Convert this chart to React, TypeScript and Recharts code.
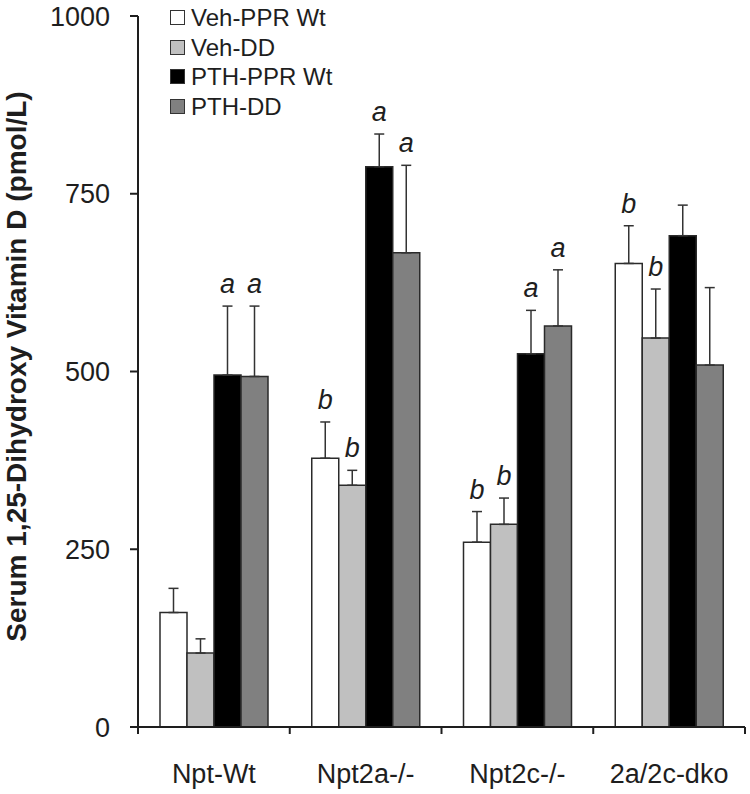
import React from 'react';
import { BarChart, Bar, XAxis, YAxis, ErrorBar, LabelList, Legend } from 'recharts';

// groups on the x axis
const groups = ['Npt-Wt', 'Npt2a-/-', 'Npt2c-/-', '2a/2c-dko'];

// means (pmol/L)
const vehPpr = [161, 378, 260, 652];
const vehDd = [104, 340, 285, 547];
const pthPpr = [495, 788, 525, 691];
const pthDd = [493, 667, 564, 509];

// SEM, upper side only
const vehPprErr = [34, 51, 43, 53];
const vehDdErr = [20, 21, 37, 69];
const pthPprErr = [97, 46, 61, 43];
const pthDdErr = [99, 123, 79, 109];

// significance letters
const vehPprSig = ['', 'b', 'b', 'b'];
const vehDdSig = ['', 'b', 'b', 'b'];
const pthPprSig = ['a', 'a', 'a', ''];
const pthDdSig = ['a', 'a', 'a', ''];

const yTicks = [0, 250, 500, 750, 1000];

const series = [
    { key: 'vehPpr', name: 'Veh-PPR Wt', fill: '#ffffff', vals: vehPpr, errs: vehPprErr, sig: vehPprSig },
    { key: 'vehDd', name: 'Veh-DD', fill: '#c0c0c0', vals: vehDd, errs: vehDdErr, sig: vehDdSig },
    { key: 'pthPpr', name: 'PTH-PPR Wt', fill: '#000000', vals: pthPpr, errs: pthPprErr, sig: pthPprSig },
    { key: 'pthDd', name: 'PTH-DD', fill: '#808080', vals: pthDd, errs: pthDdErr, sig: pthDdSig },
];

const data = groups.map((g, i) => {
    const row: any = { group: g };
    series.forEach(s => {
        row[s.key] = s.vals[i];
        row[s.key + 'Err'] = [0, s.errs[i]];
    });
    return row;
});

const FONT = '"Liberation Sans", Arial, sans-serif';
const INK = '#1e1e1e';
const W = 750;
const H = 794;
const LEFT = 138;
const RIGHT = 5;
const HALF_BAND = (W - LEFT - RIGHT) / groups.length / 2;

const XTick = (props: any) => {
    const { x, y, payload, index } = props;
    return (
        <g>
            <line x1={x - HALF_BAND} x2={x - HALF_BAND} y1={y} y2={y + 7} stroke={INK} strokeWidth={2} />
            {index === groups.length - 1 && (
                <line x1={x + HALF_BAND} x2={x + HALF_BAND} y1={y} y2={y + 7} stroke={INK} strokeWidth={2} />
            )}
            <text x={x} y={y + 56} textAnchor="middle" fontSize={27} fontFamily={FONT} fill={INK}>
                {payload.value}
            </text>
        </g>
    );
};

const YTitle = (props: any) => {
    const vb = props.viewBox || { y: 16, height: 711 };
    const cx = 26;
    const cy = vb.y + vb.height / 2 - 5;
    return (
        <text
            x={cx}
            y={cy}
            transform={`rotate(-90 ${cx} ${cy})`}
            textAnchor="middle"
            fontSize={28}
            fontWeight="bold"
            fontFamily={FONT}
            fill={INK}
        >
            Serum 1,25-Dihydroxy Vitamin D (pmol/L)
        </text>
    );
};

// letter sits just above the error bar cap
const sigLabel = (s: typeof series[number]) => (props: any) => {
    const { x, y, width, height, index } = props;
    const letter = s.sig[index];
    if (!letter) return null;
    const pxPerUnit = height / s.vals[index];
    const capY = y - s.errs[index] * pxPerUnit;
    return (
        <text
            key={`${s.key}-${index}`}
            x={x + width / 2}
            y={capY - 13}
            textAnchor="middle"
            fontSize={27}
            fontStyle="italic"
            fontFamily={FONT}
            fill={INK}
        >
            {letter}
        </text>
    );
};

const LegendBox = () => (
    <div style={{ fontFamily: FONT, fontSize: 24, color: INK, lineHeight: '29.5px' }}>
        {series.map(s => (
            <div key={s.key} style={{ display: 'flex', alignItems: 'center', whiteSpace: 'nowrap' }}>
                <span
                    style={{
                        display: 'inline-block',
                        width: 13,
                        height: 13,
                        background: s.fill,
                        border: '1.5px solid #333',
                        marginRight: 6,
                    }}
                />
                {s.name}
            </div>
        ))}
    </div>
);

export default function App() {
    return (
        <div style={{ position: 'absolute', left: 0, top: 0, width: W, height: H, background: '#fff' }}>
            <BarChart
                width={W}
                height={H}
                data={data}
                margin={{ top: 16, right: RIGHT, bottom: 0, left: 0 }}
                barCategoryGap={22}
                barGap={0}
            >
                <XAxis
                    dataKey="group"
                    height={67}
                    axisLine={{ stroke: INK, strokeWidth: 2 }}
                    tickLine={false}
                    tickSize={0}
                    tickMargin={0}
                    tick={<XTick />}
                    interval={0}
                />
                <YAxis
                    width={LEFT}
                    domain={[0, 1000]}
                    ticks={yTicks}
                    interval={0}
                    axisLine={{ stroke: INK, strokeWidth: 2 }}
                    tickLine={{ stroke: INK, strokeWidth: 2 }}
                    tickSize={8}
                    tickMargin={20}
                    tick={{ fontSize: 27, fontFamily: FONT, fill: INK }}
                    label={<YTitle />}
                />
                <Legend
                    layout="vertical"
                    align="center"
                    verticalAlign="middle"
                    content={<LegendBox />}
                    wrapperStyle={{ left: 170, top: 3, width: 'auto' }}
                />
                {series.map(s => (
                    <Bar
                        key={s.key}
                        dataKey={s.key}
                        name={s.name}
                        fill={s.fill}
                        stroke="#2a2a2a"
                        strokeWidth={1.5}
                        isAnimationActive={false}
                    >
                        <ErrorBar
                            dataKey={s.key + 'Err'}
                            direction="y"
                            width={5}
                            stroke="#333"
                            strokeWidth={1.5}
                            isAnimationActive={false}
                        />
                        <LabelList dataKey={s.key} content={sigLabel(s)} />
                    </Bar>
                ))}
            </BarChart>
        </div>
    );
}
